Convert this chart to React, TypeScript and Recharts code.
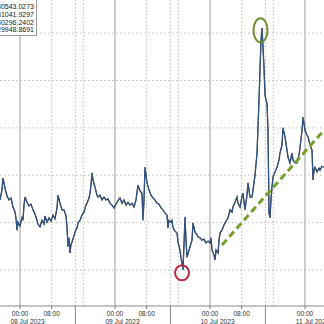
import React from "react";
import {
  LineChart,
  Line,
  XAxis,
  YAxis,
  CartesianGrid,
  ReferenceLine,
  ReferenceDot,
} from "recharts";

// hours since 08 Jul 2023 00:00
const hours = [
  -5.05, -4.55, -4.29, -3.79, -3.28, -2.78, -2.27, -1.77, -1.26, -1.01, -0.76, -0.51,
  0.0, 0.51, 0.76, 1.01, 1.26, 1.77, 2.27, 2.78, 3.28, 3.79, 4.29, 4.55, 5.05, 5.56,
  6.06, 6.32, 6.82, 7.33, 7.83, 8.34, 8.84, 9.35, 9.6, 10.11, 10.61, 11.12, 11.62,
  11.87, 12.13, 12.38, 12.63, 12.88, 13.14, 13.64, 13.89, 14.4, 14.65, 15.16, 15.66,
  16.17, 16.67, 16.93, 17.43, 17.68, 17.94, 18.19, 18.44, 18.95, 19.45, 19.71, 20.21,
  20.72, 21.22, 21.73, 22.23, 22.74, 23.24, 23.75, 24.0, 24.51, 25.01, 25.26, 25.77,
  26.27, 26.78, 27.29, 27.79, 28.3, 28.8, 29.31, 29.81, 30.32, 30.82, 31.08, 31.33,
  31.58, 32.09, 32.59, 33.1, 33.6, 34.11, 34.61, 35.12, 35.62, 36.13, 36.63, 37.14,
  37.39, 37.64, 38.15, 38.4, 38.66, 39.16, 39.67, 39.92, 40.42, 40.68, 40.93, 41.18,
  41.43, 41.69, 41.94, 42.19, 42.7, 42.95, 43.46, 43.71, 44.21, 44.72, 44.97, 45.48,
  45.98, 46.49, 46.99, 47.5, 48.0, 48.25, 48.51, 49.01, 49.27, 49.52, 50.03, 50.28,
  50.53, 51.04, 51.54, 52.05, 52.55, 53.06, 53.56, 53.81, 54.32, 54.82, 55.08, 55.58,
  56.09, 56.34, 56.84, 57.35, 57.6, 58.11, 58.61, 58.87, 59.37, 59.88, 60.13, 60.38,
  60.63, 60.89, 61.14, 61.39, 61.64, 61.9, 62.15, 62.4, 62.65, 62.78, 62.91, 63.16,
  63.41, 63.66, 63.92, 64.42, 64.93, 65.43, 65.68, 66.19, 66.44, 66.95, 67.45, 67.71,
  68.21, 68.72, 68.97, 69.48, 69.98, 70.49, 70.74, 71.25, 71.5, 72.0, 72.51, 72.76,
  73.27, 73.77, 74.03, 74.28, 74.53, 75.04, 75.54, 75.79, 76.3, 76.8,
];

const prices = [
  30148, 30169, 30194, 30173, 30156, 30148, 30152, 30133, 30122, 30110, 30084, 30101,
  30093, 30110, 30105, 30137, 30154, 30143, 30135, 30139, 30127, 30118, 30105, 30097, 30091, 30105,
  30097, 30114, 30101, 30110, 30103, 30116, 30108, 30131, 30158, 30141, 30127, 30127, 30114,
  30093, 30049, 30068, 30036, 30053, 30059, 30072, 30080, 30089, 30099, 30105, 30116,
  30122, 30137, 30141, 30152, 30162, 30179, 30205, 30190, 30175, 30158, 30154, 30158,
  30148, 30154, 30148, 30150, 30141, 30137, 30131, 30135, 30143, 30150, 30152, 30141,
  30148, 30137, 30143, 30137, 30141, 30133, 30148, 30179, 30167, 30162, 30105, 30148,
  30217, 30184, 30169, 30158, 30152, 30148, 30141, 30139, 30131, 30127, 30120, 30116,
  30089, 30105, 30101, 30105, 30089, 30082, 30078, 30059, 30042, 30025, 30015, 30000,
  30053, 30112, 30063, 30027, 30042, 30049, 30063, 30099, 30080, 30074, 30070, 30068,
  30063, 30065, 30057, 30061, 30057, 30068, 30042, 30032, 30021, 30042, 30036, 30063,
  30078, 30084, 30095, 30103, 30110, 30127, 30122, 30133, 30143, 30154, 30141, 30133,
  30156, 30162, 30127, 30158, 30184, 30154, 30154, 30169, 30200, 30247, 30302, 30359,
  30422, 30485, 30511, 30470, 30428, 30369, 30359, 30352, 30295, 30211, 30120, 30110,
  30148, 30175, 30196, 30207, 30217, 30232, 30247, 30264, 30300, 30281, 30253, 30238,
  30226, 30247, 30232, 30226, 30226, 30243, 30259, 30295, 30323, 30295, 30285, 30281,
  30264, 30253, 30190, 30211, 30217, 30207, 30215, 30211, 30219, 30217,
];

const legendValues = ["30543.0273", "31041.9297", "30296.2402", "29948.8691"];

const dayHours = [0, 24, 48, 72];
const minorHours = [8, 14, 16, 32, 38, 40, 56, 62, 64];
const priceGrid = [30000, 30100, 30200, 30300, 30400, 30500];

const timeTicks = [0, 8, 24, 32, 48, 56, 72];
const timeLabels = ["00:00", "08:00", "00:00", "08:00", "00:00", "08:00", "00:00"];
const separatorTicks = [14, 38, 62];
const dateCenters = [1.9, 25.9, 49.9, 73.9];
const dateLabels = ["08 Jul 2023", "09 Jul 2023", "10 Jul 2023", "11 Jul 2023"];

const trendStart = { x: 51.04, y: 30053 };
const trendEnd = { x: 76.8, y: 30295 };
const highMark = { x: 60.76, y: 30506 };
const lowMark = { x: 40.93, y: 29994 };

const data = hours.map((h, i) => ({ h, p: prices[i] }));
const allTicks = [...timeTicks, ...separatorTicks, ...dateCenters];

const FONT = "'Liberation Sans', Arial, sans-serif";

const AxisTick = (props: any) => {
  const { x, y, payload } = props;
  const v = payload.value;
  const ti = timeTicks.indexOf(v);
  if (ti >= 0) {
    return (
      <g>
        <line x1={x} y1={y} x2={x} y2={y + 3} stroke="#777" strokeWidth={1} />
        <text x={x} y={y + 9.5} textAnchor="middle" fontSize={6.6} fill="#333" fontFamily={FONT}>
          {timeLabels[ti]}
        </text>
      </g>
    );
  }
  if (separatorTicks.indexOf(v) >= 0) {
    return <line x1={x} y1={y} x2={x} y2={y + 20} stroke="#888" strokeWidth={1} />;
  }
  const di = dateCenters.indexOf(v);
  if (di >= 0) {
    const cx = Math.max(x, 19.5);
    return (
      <text x={cx} y={y + 17.5} textAnchor="middle" fontSize={6.6} fill="#333" fontFamily={FONT}>
        {dateLabels[di]}
      </text>
    );
  }
  return null;
};

const Ellipse = (color: string, rx: number, ry: number) => (props: any) => {
  const { cx, cy } = props;
  return <ellipse cx={cx} cy={cy} rx={rx} ry={ry} fill="none" stroke={color} strokeWidth={2} />;
};

export default function App() {
  return (
    <div
      style={{
        position: "absolute",
        left: 0,
        top: 0,
        width: 324,
        height: 324,
        overflow: "hidden",
        background: "#fff",
      }}
    >
      <LineChart width={324} height={324} data={data} margin={{ top: 0, right: 0, left: 0, bottom: 0 }}>
        <CartesianGrid horizontal={false} verticalValues={dayHours} stroke="#9c9c9c" strokeWidth={1} />
        <CartesianGrid
          horizontal={false}
          verticalValues={minorHours}
          stroke="#bdbdbd"
          strokeDasharray="1.5 2"
        />
        <CartesianGrid
          vertical={false}
          horizontalValues={priceGrid}
          stroke="#bdbdbd"
          strokeDasharray="1.5 2.5"
        />
        <XAxis
          type="number"
          dataKey="h"
          domain={[-5.05, 76.8]}
          allowDataOverflow
          ticks={allTicks}
          interval={0}
          tickSize={0}
          tickMargin={0}
          tickLine={false}
          height={18}
          axisLine={{ stroke: "#888" }}
          tick={<AxisTick />}
        />
        <YAxis hide type="number" domain={[29924, 30570]} allowDataOverflow />
        <Line
          dataKey="p"
          type="linear"
          stroke="#161b24"
          strokeWidth={1.3}
          dot={false}
          isAnimationActive={false}
        />
        <Line
          dataKey="p"
          type="linear"
          stroke="#3f72b8"
          strokeWidth={0.7}
          dot={false}
          isAnimationActive={false}
        />
        <ReferenceLine
          segment={[trendStart, trendEnd]}
          stroke="#72a02a"
          strokeWidth={3}
          strokeDasharray="7 4"
          ifOverflow="visible"
        />
        <ReferenceDot
          x={highMark.x}
          y={highMark.y}
          r={8}
          ifOverflow="visible"
          shape={Ellipse("#6f8f2e", 7, 12)}
        />
        <ReferenceDot
          x={lowMark.x}
          y={lowMark.y}
          r={8}
          ifOverflow="visible"
          shape={Ellipse("#b52a40", 7, 7.5)}
        />
      </LineChart>
      <div
        style={{
          position: "absolute",
          left: -10,
          top: -2,
          width: 47,
          height: 38,
          border: "1px solid #999",
          background: "#fff",
          fontFamily: FONT,
          fontSize: 7,
          lineHeight: "7.8px",
          color: "#222",
          textAlign: "right",
          paddingTop: 4,
          boxSizing: "border-box",
          paddingRight: 2,
        }}
      >
        {legendValues.map((t) => (
          <div key={t}>{t}</div>
        ))}
      </div>
    </div>
  );
}
